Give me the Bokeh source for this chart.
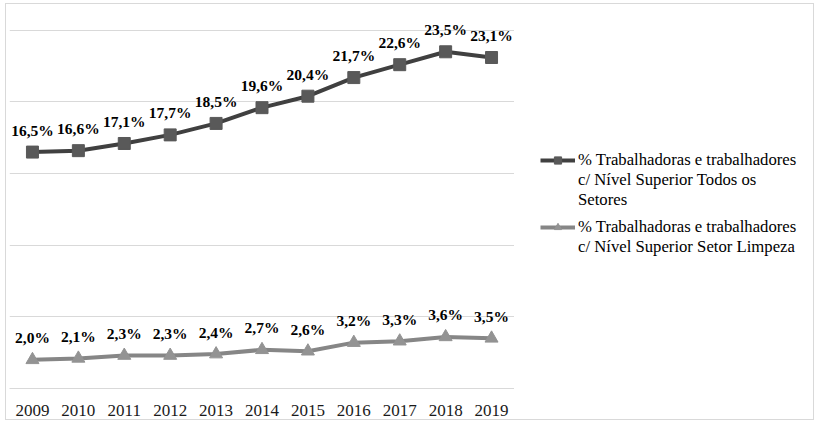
from bokeh.plotting import figure
from bokeh.layouts import row
from bokeh.models import ColumnDataSource, Legend, LegendItem, Range1d, FixedTicker
from bokeh.core.properties import value
from bokeh.embed import file_html
from bokeh.resources import INLINE

years = ["2009", "2010", "2011", "2012", "2013", "2014", "2015", "2016", "2017", "2018", "2019"]
todos = [16.5, 16.6, 17.1, 17.7, 18.5, 19.6, 20.4, 21.7, 22.6, 23.5, 23.1]
limpeza = [2.0, 2.1, 2.3, 2.3, 2.4, 2.7, 2.6, 3.2, 3.3, 3.6, 3.5]
y_ticks = [0, 5, 10, 15, 20, 25]
legend_todos = ["% Trabalhadoras e trabalhadores", "c/ Nível Superior Todos os", "Setores"]
legend_limpeza = ["% Trabalhadoras e trabalhadores", "c/ Nível Superior Setor Limpeza"]


def fmt(v):
    return f"{v:.1f}".replace(".", ",") + "%"


src = ColumnDataSource(dict(
    x=years, todos=todos, limpeza=limpeza,
    lt=[fmt(v) for v in todos], ll=[fmt(v) for v in limpeza],
))

SERIF = "Liberation Serif"
DARK_LINE, DARK_MARK = "#404040", "#595959"
LIGHT_LINE, LIGHT_MARK = "#868686", "#939393"

# frame spans the full height above the axis; top gridline (25) sits ~26px below the top
p = figure(width=508, height=415, x_range=years, y_range=Range1d(0, 26.8),
           output_backend="svg", toolbar_location=None, y_axis_location=None,
           min_border_left=3, min_border_right=0, min_border_top=0, min_border_bottom=31)
p.x_range.range_padding = 0
p.outline_line_color = None
p.background_fill_color = "white"
p.border_fill_color = "white"

p.xgrid.grid_line_color = None
p.ygrid.ticker = FixedTicker(ticks=y_ticks)
p.ygrid.grid_line_color = "#d9d9d9"
p.ygrid.grid_line_width = 1

ax = p.xaxis[0]
ax.axis_line_color = "#d9d9d9"
ax.major_tick_line_color = None
ax.minor_tick_line_color = None
ax.major_label_standoff = 10
ax.major_label_text_font = SERIF
ax.major_label_text_font_size = "17px"
ax.major_label_text_color = "#1a1a1a"


def draw_series(fig, col, line_color, marker, size, mark_color):
    ln = fig.line("x", col, source=src, line_color=line_color, line_width=4)
    sc = fig.scatter("x", col, source=src, marker=marker, size=size,
                     fill_color=mark_color, line_color=mark_color)
    return ln, sc


draw_series(p, "todos", DARK_LINE, "square", 12, DARK_MARK)
draw_series(p, "limpeza", LIGHT_LINE, "triangle", 13, LIGHT_MARK)

for col, lab in (("todos", "lt"), ("limpeza", "ll")):
    p.text(x="x", y=col, text=lab, source=src, text_font=value(SERIF),
           text_font_style="bold", text_font_size="15.5px", text_align="center",
           text_baseline="alphabetic", y_offset=-22, text_color="black")

# legend panel (its y range lies far above the data, so only the legend shows)
pl = figure(width=299, height=415, x_range=years, y_range=Range1d(100, 101),
            output_backend="svg", toolbar_location=None,
            x_axis_location=None, y_axis_location=None,
            min_border_left=0, min_border_right=0, min_border_top=0, min_border_bottom=0)
pl.grid.visible = False
pl.outline_line_color = None
pl.background_fill_color = "white"
pl.border_fill_color = "white"

lA = draw_series(pl, "todos", DARK_LINE, "square", 12, DARK_MARK)
lB = draw_series(pl, "limpeza", LIGHT_LINE, "triangle", 13, LIGHT_MARK)
dummy = pl.line("x", "todos", source=src, line_alpha=0)


def make_legend(lines, rends, loc):
    items = [LegendItem(label=lines[0], renderers=list(rends))]
    items += [LegendItem(label=t, renderers=[dummy]) for t in lines[1:]]
    return Legend(items=items, location=loc, orientation="vertical", spacing=0,
                  padding=0, margin=0, border_line_color=None, background_fill_alpha=0,
                  glyph_width=35, glyph_height=18, label_height=18, label_standoff=3,
                  label_text_font=SERIF, label_text_font_size="16.7px",
                  label_text_color="black")


pl.add_layout(make_legend(legend_todos, lA, (26, 178)))
pl.add_layout(make_legend(legend_limpeza, lB, (26, 131)))

layout = row(p, pl)
layout.styles = {"border": "1px solid #d9d9d9", "margin-left": "5px", "margin-top": "3px"}

open("out.html", "w").write(file_html(layout, INLINE))
